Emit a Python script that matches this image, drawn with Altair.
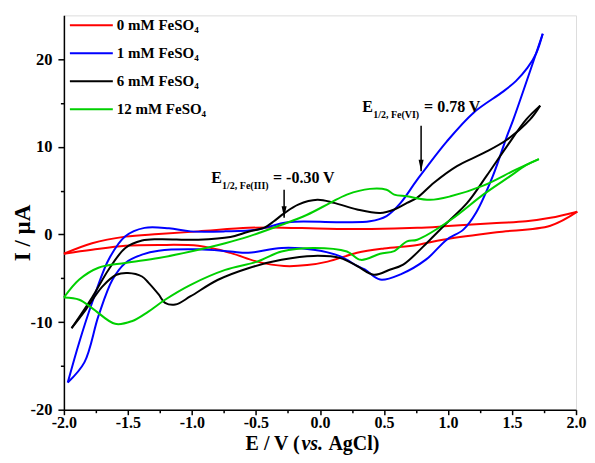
import altair as alt
import pandas as pd

FONT = "Liberation Serif"

# ---------------- data (E in V, I in µA), loops traced in scan order ----------------
red_E = [-2.00, -1.78, -1.52, -1.26, -0.95, -0.56, -0.38, 0.06, 0.40, 0.76, 1.00, 1.38, 1.61, 1.80, 2.01,
         1.80, 1.38, 0.96, 0.76, 0.50, 0.29, 0.06, -0.10, -0.28, -0.49, -0.70, -0.95, -1.26, -1.52, -1.78, -2.00]
red_I = [-2.2, -1.0, -0.25, 0.05, 0.35, 0.75, 0.8, 0.65, 0.62, 0.75, 0.95, 1.3, 1.5, 1.9, 2.6,
         1.0, 0.25, -0.6, -1.2, -1.6, -2.1, -3.1, -3.5, -3.6, -3.1, -2.1, -1.3, -1.2, -1.3, -1.75, -2.2]

blue_E = [-1.97, -1.88, -1.78, -1.65, -1.52, -1.37, -1.18, -1.01, -0.74, -0.49, -0.25, 0.14, 0.39, 0.52, 0.63,
          0.76, 0.99, 1.20, 1.43, 1.53, 1.62, 1.69, 1.74,
          1.51, 1.46, 1.35, 1.22, 1.12, 0.99, 0.83, 0.63, 0.47, 0.35, 0.29, 0.16, -0.05, -0.30, -0.56,
          -0.70, -0.95, -1.26, -1.39, -1.52, -1.62, -1.73, -1.84, -1.97]
blue_I = [-16.9, -12.3, -7.8, -2.85, -0.2, 0.75, 0.7, 0.35, 0.35, 0.55, 1.4, 1.4, 1.5, 2.1, 3.6,
          6.25, 10.6, 13.9, 16.3, 17.5, 19.0, 20.7, 22.9,
          13.1, 11.2, 6.65, 2.5, 0.55, -0.6, -2.85, -4.55, -5.15, -4.0, -3.6, -2.5, -1.75, -1.55, -2.1,
          -1.95, -1.7, -1.85, -2.3, -3.25, -5.15, -9.3, -14.6, -16.9]

black_E = [-1.94, -1.78, -1.65, -1.52, -1.39, -1.26, -0.95, -0.70, -0.56, -0.43, -0.36, -0.28, -0.17, -0.02,
           0.11, 0.29, 0.47, 0.58, 0.68, 0.76, 0.89, 1.07, 1.28, 1.46, 1.64, 1.72,
           1.61, 1.46, 1.30, 1.15, 0.99, 0.86, 0.65, 0.55, 0.42, 0.29, 0.16, -0.05, -0.30, -0.56, -0.80,
           -1.01, -1.13, -1.21, -1.26, -1.34, -1.39, -1.50, -1.59, -1.70, -1.83, -1.94]
black_I = [-10.7, -7.2, -4.0, -1.55, -0.7, -0.55, -0.6, -0.3, 0.3, 0.8, 1.5, 2.4, 3.4, 3.95,
           3.6, 2.85, 2.45, 2.85, 3.6, 4.2, 5.9, 7.8, 9.3, 10.8, 13.1, 14.7,
           13.1, 10.05, 6.65, 3.6, 1.3, -0.6, -3.45, -4.0, -4.6, -3.6, -2.7, -2.45, -2.9, -3.85, -5.2,
           -7.05, -8.0, -7.8, -6.85, -5.5, -4.8, -4.4, -4.6, -5.95, -8.6, -10.7]

green_E = [-2.00, -1.88, -1.73, -1.52, -1.26, -1.01, -0.74, -0.56, -0.30, -0.10, 0.08, 0.21, 0.39, 0.52,
           0.58, 0.68, 0.86, 1.02, 1.28, 1.53, 1.71,
           1.61, 1.48, 1.28, 1.02, 0.76, 0.68, 0.58, 0.47, 0.32, 0.21, -0.05, -0.30, -0.49, -0.74, -1.01,
           -1.21, -1.34, -1.47, -1.60, -1.78, -1.88, -2.00]
green_I = [-7.2, -5.15, -3.8, -3.25, -2.7, -1.95, -1.0, -0.25, 1.1, 2.25, 3.6, 4.55, 5.2, 5.1,
           4.55, 4.35, 3.95, 4.35, 5.6, 7.4, 8.6,
           7.9, 6.6, 4.6, 1.65, -0.6, -0.8, -1.9, -2.2, -2.9, -1.95, -1.55, -1.95, -3.1, -4.05, -5.75,
           -7.45, -8.8, -9.9, -10.2, -8.4, -7.45, -7.2]

series_names = ["0 mM FeSO₄", "1 mM FeSO₄", "6 mM FeSO₄", "12 mM FeSO₄"]
series_colors = ["#ff0000", "#0000ff", "#000000", "#00d000"]

x_major = [-2.0, -1.5, -1.0, -0.5, 0.0, 0.5, 1.0, 1.5, 2.0]
x_minor = [-1.75, -1.25, -0.75, -0.25, 0.25, 0.75, 1.25, 1.75]
y_major = [-20, -10, 0, 10, 20]
y_minor = [-15, -5, 5, 15]

# annotation arrows (E position, top and tip current)
arrow_E = [-0.28, 0.79]
arrow_top = [5.1, 12.4]
arrow_tip = [1.9, 7.2]

# annotation labels (left of "E", baseline)
ann_E = [-0.85, 0.33]
ann_I = [5.9, 14.0]
ann_sub = ["1/2, Fe(III)", "1/2, Fe(VI)"]
ann_val = ["= -0.30 V", "= 0.78 V"]

# ---------------- tables ----------------
# each loop is split at its positive vertex into a forward and a reverse branch
rows = []
for name, E, I in zip(series_names, [red_E, blue_E, black_E, green_E], [red_I, blue_I, black_I, green_I]):
    turn = E.index(max(E))
    for k, (e, i) in enumerate(zip(E, I)):
        if k <= turn:
            rows.append({"series": name, "branch": name + " fwd", "E": e, "I": i, "k": k})
        if k >= turn:
            rows.append({"series": name, "branch": name + " rev", "E": e, "I": i, "k": k})
df = pd.DataFrame(rows)

arrow_df = pd.DataFrame({"E": arrow_E, "top": arrow_top, "tip": arrow_tip})
ann_df = pd.DataFrame({"E": ann_E, "I": ann_I, "main": ["E", "E"], "sub": ann_sub, "val": ann_val})

x_scale = alt.Scale(domain=[-2, 2], nice=False, zero=False)
y_scale = alt.Scale(domain=[-20, 25], nice=False, zero=False)

common_axis = dict(grid=False, title=None, domainColor="black", tickColor="black", domainWidth=1.5,
                   tickWidth=1.5, labelColor="black", labelFont=FONT, labelFontWeight="bold",
                   labelOverlap=False, labelFlush=False)

x_axis = alt.Axis(values=x_major, tickSize=5, labelPadding=0, orient="bottom", labelFontSize=16,
                  labelExpr="datum.value < 0 ? '-' + format(-datum.value, '.1f') : format(datum.value, '.1f')",
                  **common_axis)
y_axis = alt.Axis(values=y_major, tickSize=6, labelPadding=6, orient="left", labelFontSize=16.5,
                  labelExpr="datum.value < 0 ? '-' + format(-datum.value, 'd') : format(datum.value, 'd')",
                  **common_axis)
x_axis_minor = alt.Axis(values=x_minor, tickSize=3, tickWidth=1.5, tickColor="black", labels=False,
                        domain=False, grid=False, title=None, orient="bottom")
y_axis_minor = alt.Axis(values=y_minor, tickSize=3.5, tickWidth=1.5, tickColor="black", labels=False,
                        domain=False, grid=False, title=None, orient="left")

lines = alt.Chart(df).mark_line(strokeWidth=2, interpolate="catmull-rom").encode(
    x=alt.X("E:Q", scale=x_scale, axis=x_axis),
    y=alt.Y("I:Q", scale=y_scale, axis=y_axis),
    color=alt.Color("series:N", scale=alt.Scale(domain=series_names, range=series_colors), legend=None),
    detail="branch:N",
    order="k:Q",
)

arrows = alt.Chart(arrow_df).mark_rule(strokeWidth=1.5, color="black").encode(
    x=alt.X("E:Q", scale=x_scale, axis=x_axis_minor),
    y=alt.Y("top:Q", scale=y_scale, axis=y_axis_minor),
    y2="tip:Q",
)

heads = alt.Chart(arrow_df).mark_point(
    shape="M -1 -4.6 L 1 -4.6 L 0 0 Z", filled=True, size=25, color="black", opacity=1, strokeWidth=0
).encode(
    x=alt.X("E:Q", scale=x_scale, axis=None),
    y=alt.Y("tip:Q", scale=y_scale, axis=None),
)

ann_main = alt.Chart(ann_df).mark_text(align="left", baseline="alphabetic", font=FONT, fontWeight="bold",
                                       fontSize=16, color="black").encode(
    x=alt.X("E:Q", scale=x_scale, axis=None), y=alt.Y("I:Q", scale=y_scale, axis=None), text="main:N")
ann_subs = alt.Chart(ann_df).mark_text(align="left", baseline="alphabetic", font=FONT, fontWeight="bold",
                                       fontSize=10, color="black", dx=11, dy=6).encode(
    x=alt.X("E:Q", scale=x_scale, axis=None), y=alt.Y("I:Q", scale=y_scale, axis=None), text="sub:N")
ann_vals = alt.Chart(ann_df).mark_text(align="left", baseline="alphabetic", font=FONT, fontWeight="bold",
                                       fontSize=16, color="black", dx=62).encode(
    x=alt.X("E:Q", scale=x_scale, axis=None), y=alt.Y("I:Q", scale=y_scale, axis=None), text="val:N")

# ---------------- manual legend ----------------
legend_layers = []
for idx, (name, col) in enumerate(zip(series_names, series_colors)):
    ly = 10 + 28 * idx
    one = pd.DataFrame({"label": [name]})
    legend_layers.append(
        alt.Chart(one).mark_rule(strokeWidth=2, color=col).encode(
            x=alt.value(6), x2=alt.value(49), y=alt.value(ly))
    )
    legend_layers.append(
        alt.Chart(one).mark_text(align="left", baseline="middle", font=FONT, fontWeight="bold",
                                 fontSize=15, color="black").encode(
            x=alt.value(53), y=alt.value(ly), text="label:N")
    )

# ---------------- axis titles ----------------
t = pd.DataFrame({"a": ["E / V ("], "b": ["vs."], "c": ["AgCl)"], "y": ["I / µA"]})
xt1 = alt.Chart(t).mark_text(align="left", baseline="alphabetic", font=FONT, fontWeight="bold", fontSize=20,
                             color="black").encode(x=alt.value(182), y=alt.value(435), text="a:N")
xt2 = alt.Chart(t).mark_text(align="left", baseline="alphabetic", font=FONT, fontWeight="bold", fontStyle="italic",
                             fontSize=20, color="black").encode(x=alt.value(238), y=alt.value(435), text="b:N")
xt3 = alt.Chart(t).mark_text(align="left", baseline="alphabetic", font=FONT, fontWeight="bold", fontSize=20,
                             color="black").encode(x=alt.value(265), y=alt.value(435), text="c:N")
yt = alt.Chart(t).mark_text(align="center", baseline="middle", font=FONT, fontWeight="bold", fontSize=23,
                            angle=270, color="black").encode(x=alt.value(-41), y=alt.value(218), text="y:N")

chart = alt.layer(
    lines, arrows, heads, ann_main, ann_subs, ann_vals, *legend_layers, xt1, xt2, xt3, yt
).resolve_axis(x="independent", y="independent").properties(
    width=513, height=395,
    autosize=alt.AutoSizeParams(type="none"),
    padding={"left": 56, "top": 7, "right": 11, "bottom": 45},
).configure_view(stroke=None).configure(background="white")

chart.save("out.html", embed_options={"renderer": "svg", "actions": False})
